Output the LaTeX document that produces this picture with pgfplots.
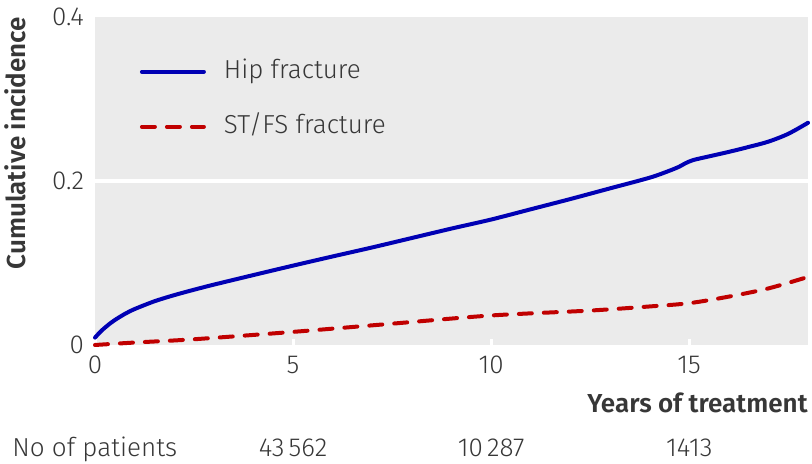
\documentclass[border=0pt]{standalone}
\usepackage{fontspec}
\setmainfont{Fira Sans}[UprightFont=* Light, BoldFont=* SemiBold]
\usepackage{pgfplots}
\pgfplotsset{compat=1.18}
\definecolor{bg}{RGB}{235,235,235}
\definecolor{txt}{RGB}{55,55,55}
\definecolor{hipblue}{RGB}{0,0,180}
\definecolor{stred}{RGB}{192,0,0}
\begin{document}
\begin{tikzpicture}
\path[use as bounding box] (0,0) rectangle (406pt,232pt);
\begin{axis}[
  scale only axis, width=356.5pt, height=164pt,
  at={(47.5pt,59.5pt)}, anchor=south west,
  xmin=0, xmax=18, ymin=0, ymax=0.4,
  xtick={0,5,10,15}, ytick={0,0.2,0.4},
  xticklabels={0,5,10,15}, yticklabels={0,0.2,0.4},
  extra y ticks={0.2}, extra y tick labels={},
  extra y tick style={ymajorgrids=true, major grid style={white, line width=1.6pt}, major tick length=0pt},
  axis background/.style={fill=bg},
  axis line style={draw=none},
  tick align=inside, tick pos=left,
  major tick length=3pt,
  xtick style={draw=white, line width=1.5pt},
  ytick style={draw=none},
  tick label style={font=\fontsize{13}{15}\selectfont, text=txt},
  xticklabel style={yshift=-2pt},
  yticklabel style={xshift=-2pt},
  clip=false,
  legend image code/.code={\draw[#1] (0pt,0pt) -- (31pt,0pt);},
  legend cell align=left,
  legend style={draw=none, fill=none, inner sep=0pt, outer sep=0pt,
    at={(0.063,0.871)}, anchor=north west, row sep=15pt, column sep=9pt,
    font=\fontsize{13}{15}\selectfont, text=txt,
    nodes={inner sep=0pt, text height=9.5pt, text depth=3pt}},
]
\addplot[hipblue, line width=2pt, line cap=round, smooth] coordinates {
(0,0.009) (0.1,0.0143) (0.2,0.0190) (0.35,0.0251) (0.5,0.0304) (0.75,0.0378)
(1,0.0438) (1.5,0.0533) (2,0.0608) (2.5,0.0674) (3,0.0736) (4,0.0853)
(5,0.0968) (6,0.108) (7,0.119) (8,0.1305) (9,0.142) (10,0.153) (11,0.1655)
(12,0.178) (13,0.191) (14,0.204) (14.5,0.2125) (14.75,0.2175) (14.9,0.2215)
(15.1,0.2255) (15.5,0.230) (16,0.2355) (16.5,0.2415) (17,0.248) (17.5,0.2575)
(18,0.271)};
\addlegendentry{Hip fracture}
\addplot[stred, line width=2pt, line cap=round, dash pattern=on 6.5pt off 6pt, smooth] coordinates {
(0,0) (1,0.003) (2.5,0.007) (5,0.016) (7.5,0.026) (10,0.036) (12.5,0.042)
(14,0.047) (15,0.051) (16,0.059) (17,0.069) (18,0.083)};
\addlegendentry{ST/FS fracture}
\end{axis}
\node[rotate=90, text=txt, font=\fontsize{13}{15}\selectfont\bfseries] at (7.5pt,160.5pt) {Cumulative incidence};
\node[anchor=base east, text=txt, font=\fontsize{13}{15}\selectfont\bfseries, inner sep=0pt] at (404pt,25.5pt) {Years of treatment};
\node[anchor=base west, text=txt, font=\fontsize{13}{15}\selectfont, inner sep=0pt] at (6pt,3.5pt) {No of patients};
\node[anchor=base, text=txt, font=\fontsize{13}{15}\selectfont, inner sep=0pt] at (146.5pt,3.5pt) {43\,562};
\node[anchor=base, text=txt, font=\fontsize{13}{15}\selectfont, inner sep=0pt] at (245.6pt,3.5pt) {10\,287};
\node[anchor=base, text=txt, font=\fontsize{13}{15}\selectfont, inner sep=0pt] at (344.6pt,3.5pt) {1413};
\end{tikzpicture}
\end{document}
